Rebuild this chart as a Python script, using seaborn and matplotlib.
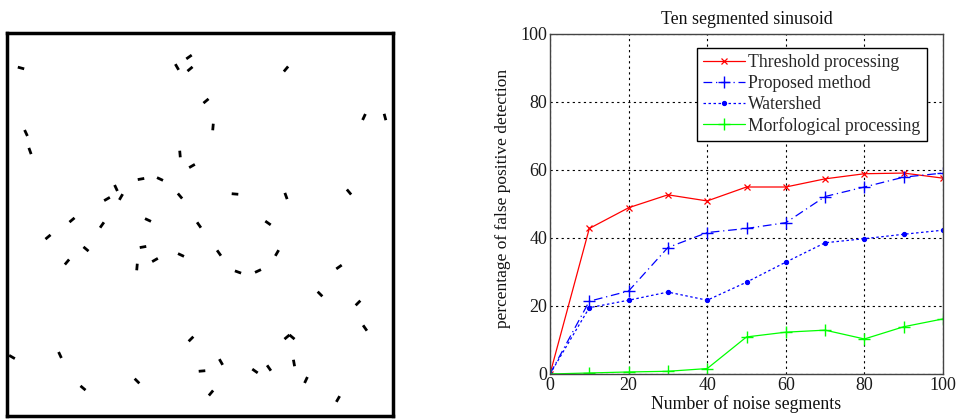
import numpy as np
import pandas as pd
import matplotlib
matplotlib.use("Agg")
import matplotlib.pyplot as plt
import seaborn as sns

# ---------------- data ----------------
noise_segments = [0, 10, 20, 30, 40, 50, 60, 70, 80, 90, 100]
threshold = [0, 42.8, 48.9, 52.7, 50.9, 55.0, 55.0, 57.4, 58.9, 59.1, 57.6]
proposed = [0, 21.4, 24.4, 37.2, 41.6, 42.8, 44.5, 52.2, 55.0, 57.9, 59.1]
watershed = [0, 19.5, 21.7, 24.1, 21.7, 27.0, 32.9, 38.6, 39.8, 41.1, 42.3]
morfological = [0, 0.3, 0.6, 0.8, 1.6, 10.9, 12.3, 12.9, 10.3, 13.9, 16.2]
series_names = ["Threshold processing", "Proposed method", "Watershed",
                "Morfological processing"]
y_ticks = [0, 20, 40, 60, 80, 100]
x_ticks = [0, 20, 40, 60, 80, 100]

# segment image (left panel): centres (pixel coords) and angles (deg)
seg_x = [21, 189, 177, 190, 286, 206, 364, 385, 26, 213, 30, 180, 192, 141, 160,
         116, 107, 121, 180, 235, 286, 349, 72, 102, 148, 199, 268, 48, 86, 143,
         181, 219, 277, 67, 137, 155, 238, 258, 339, 320, 358, 365, 191, 287, 292,
         12, 60, 221, 294, 202, 255, 269, 137, 306, 83, 211, 338]
seg_y = [68, 57, 67, 69, 69, 101, 117, 117, 133, 127, 151, 154, 166, 179, 179,
         188, 199, 197, 196, 194, 196, 192, 220, 225, 220, 225, 223, 237, 249, 247,
         255, 253, 253, 262, 267, 260, 272, 271, 267, 294, 303, 328, 339, 337, 337,
         357, 355, 362, 363, 371, 371, 368, 381, 380, 388, 393, 399]
seg_angle = [-15, 35, -60, 40, 50, 40, 65, -75, -65, 85, -70, -85, 30, 10, -25,
             -65, 30, 60, -50, -5, -70, -50, 40, 55, -25, -55, -35, 40, -40, 10,
             -25, -55, 60, 50, 85, 30, -20, 25, 35, -45, 45, -55, 45, 40, -40,
             -30, -65, -60, -80, 5, -35, -55, -45, 65, -40, 50, 60]

# ---------------- figure ----------------
sns.set_theme(style="white")
plt.rcParams["font.family"] = ["Liberation Serif", "DejaVu Serif"]

W, H = 957, 420
fig = plt.figure(figsize=(W / 100, H / 100), dpi=100)
fig.patch.set_facecolor("white")

# left panel: noise segments image
box_l, box_r, box_t, box_b = 7, 393, 33, 416
axl = fig.add_axes([box_l / W, 1 - box_b / H, (box_r - box_l) / W, (box_b - box_t) / H])
axl.set_xlim(box_l, box_r)
axl.set_ylim(box_b, box_t)
axl.set_xticks([])
axl.set_yticks([])
for s in axl.spines.values():
    s.set_color("black")
    s.set_linewidth(2.5)
seg_len = 3.3
for cx, cy, a in zip(seg_x, seg_y, seg_angle):
    dx = seg_len * np.cos(np.radians(a))
    dy = -seg_len * np.sin(np.radians(a))
    axl.plot([cx - dx, cx + dx], [cy - dy, cy + dy], color="black", lw=2.0,
             solid_capstyle="butt")

# right panel: line chart
ax_l, ax_r, ax_t, ax_b = 550, 943, 34, 374
ax = fig.add_axes([ax_l / W, 1 - ax_b / H, (ax_r - ax_l) / W, (ax_b - ax_t) / H])

df = pd.DataFrame({"x": noise_segments, series_names[0]: threshold,
                   series_names[1]: proposed, series_names[2]: watershed,
                   series_names[3]: morfological})
styles = [
    dict(color="#ff0000", marker="x", linestyle="-", markersize=5,
         markeredgewidth=0.9, markeredgecolor="#ff0000"),
    dict(color="#0000ff", marker="+", linestyle=(0, (7, 3, 1, 3)), markersize=9,
         markeredgewidth=1.0, markeredgecolor="#0000ff"),
    dict(color="#0000ff", marker=".", linestyle=(0, (2, 2)), markersize=6,
         markeredgewidth=0.8, markeredgecolor="#0000ff", markerfacecolor="#0000ff"),
    dict(color="#00ff00", marker="+", linestyle="-", markersize=9,
         markeredgewidth=1.0, markeredgecolor="#00ff00"),
]
for name, st in zip(series_names, styles):
    sns.lineplot(data=df, x="x", y=name, ax=ax, label=name, lw=0.9, **st)

ax.set_xlim(0, 100)
ax.set_ylim(0, 100)
ax.set_xticks(x_ticks)
ax.set_yticks(y_ticks)
ax.grid(True, color="black", linestyle=(0, (2, 3)), linewidth=0.8)
ax.tick_params(axis="both", direction="in", length=4, labelsize=13,
               colors="#333333", labelcolor="#1a1a1a", pad=2)
for s in ax.spines.values():
    s.set_color("#444444")
    s.set_linewidth(1.0)
ax.set_title("Ten segmented sinusoid", fontsize=12.9, color="#111111", pad=7)
ax.set_xlabel("Number of noise segments", fontsize=12.8, color="#111111", labelpad=1)
ax.set_ylabel("percentage of false positive detection", fontsize=12.5,
              color="#111111", labelpad=0)
ax.yaxis.set_label_coords(-0.098, 0.515)
leg = ax.legend(loc="upper right", bbox_to_anchor=(0.959, 0.959), fontsize=12.7,
                frameon=True, fancybox=False, edgecolor="black", framealpha=1,
                handlelength=2.4, handletextpad=0.17, borderpad=0.35,
                labelspacing=0.22, borderaxespad=0)
leg.get_frame().set_linewidth(1.0)

fig.savefig("out.png", dpi=100, facecolor="white")
